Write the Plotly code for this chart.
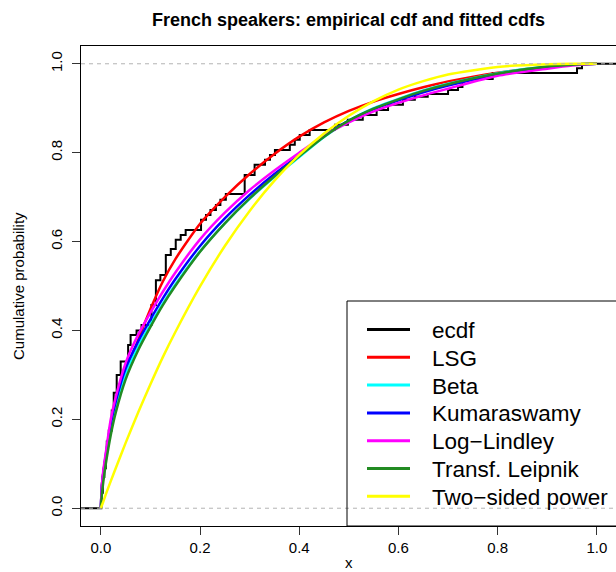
import plotly.graph_objects as go

# ---------------- data ----------------
ecdf_x = [0.001, 0.004, 0.007, 0.010, 0.012, 0.016, 0.022, 0.026, 0.032, 0.040,
          0.055, 0.060, 0.072, 0.082, 0.102, 0.111, 0.120, 0.131, 0.141, 0.151,
          0.161, 0.171, 0.202, 0.212, 0.221, 0.232, 0.241, 0.252, 0.290, 0.310,
          0.331, 0.341, 0.351, 0.381, 0.391, 0.401, 0.421, 0.472, 0.498, 0.528,
          0.556, 0.579, 0.609, 0.633, 0.659, 0.700, 0.720, 0.729, 0.790, 0.960,
          0.970]
ecdf_y = [0.035, 0.070, 0.090, 0.115, 0.150, 0.175, 0.220, 0.260, 0.300, 0.330,
          0.367, 0.390, 0.400, 0.412, 0.457, 0.513, 0.525, 0.570, 0.583, 0.604,
          0.615, 0.626, 0.649, 0.660, 0.671, 0.682, 0.694, 0.707, 0.750, 0.773,
          0.784, 0.795, 0.806, 0.818, 0.829, 0.840, 0.851, 0.863, 0.874, 0.885,
          0.896, 0.908, 0.919, 0.926, 0.932, 0.941, 0.948, 0.966, 0.979, 0.990,
          1.000]

grid_x = [0, 0.002, 0.005, 0.01, 0.02, 0.03, 0.05, 0.075, 0.1, 0.125, 0.15, 0.2,
          0.25, 0.3, 0.35, 0.4, 0.45, 0.5, 0.55, 0.6, 0.65, 0.7, 0.8, 0.9, 0.95, 1.0]

lsg_cdf = [0, 0.05, 0.08, 0.115, 0.18, 0.23, 0.30, 0.378, 0.448, 0.51, 0.56, 0.64,
           0.70, 0.752, 0.797, 0.836, 0.868, 0.894, 0.915, 0.932, 0.947, 0.96,
           0.98, 0.993, 0.998, 1.0]
beta_cdf = [0, 0.045, 0.075, 0.113, 0.18, 0.228, 0.302, 0.363, 0.413, 0.46, 0.503,
            0.578, 0.641, 0.696, 0.745, 0.79, 0.835, 0.872, 0.90, 0.921, 0.94,
            0.955, 0.979, 0.994, 0.998, 1.0]
kum_cdf = [0, 0.05, 0.08, 0.12, 0.19, 0.24, 0.315, 0.375, 0.425, 0.472, 0.515,
           0.59, 0.652, 0.705, 0.752, 0.795, 0.838, 0.872, 0.898, 0.918, 0.936,
           0.951, 0.976, 0.993, 0.998, 1.0]
loglindley_cdf = [0, 0.05, 0.085, 0.125, 0.20, 0.25, 0.327, 0.39, 0.44, 0.487,
                  0.53, 0.605, 0.665, 0.716, 0.76, 0.80, 0.838, 0.868, 0.893,
                  0.912, 0.929, 0.944, 0.973, 0.989, 0.996, 1.0]
leipnik_cdf = [0, 0.03, 0.06, 0.10, 0.165, 0.215, 0.29, 0.355, 0.408, 0.457, 0.50,
               0.577, 0.641, 0.697, 0.747, 0.792, 0.836, 0.872, 0.899, 0.92,
               0.939, 0.954, 0.978, 0.994, 0.998, 1.0]
tsp_cdf = [0, 0.006, 0.015, 0.031, 0.061, 0.09, 0.147, 0.215, 0.279, 0.34, 0.396,
           0.499, 0.59, 0.669, 0.737, 0.795, 0.843, 0.883, 0.916, 0.942, 0.961,
           0.976, 0.993, 0.999, 1.0, 1.0]

series_names = ["ecdf", "LSG", "Beta", "Kumaraswamy", "Log\u2212Lindley",
                "Transf. Leipnik", "Two\u2212sided power"]
series_colors = ["black", "red", "cyan", "blue", "magenta", "forestgreen", "yellow"]
x_ticks = [0.0, 0.2, 0.4, 0.6, 0.8, 1.0]
tick_text = ["0.0", "0.2", "0.4", "0.6", "0.8", "1.0"]

# ---------------- layout geometry ----------------
W, H = 616, 572
ML, MR, MT, MB = 81, 0, 46, 46
XR = [-0.04, 1.0386]
YR = [-0.04, 1.04]
FONT = "Liberation Sans, Arial, Helvetica, sans-serif"


def px_x(p):
    return (p - ML) / (W - ML - MR)


def px_y(p):
    return (H - MB - p) / (H - MT - MB)


fig = go.Figure()

# ECDF step function
sx = [XR[0]] + ecdf_x + [XR[1] + 0.01]
sy = [0.0] + ecdf_y + [ecdf_y[-1]]
fig.add_trace(go.Scatter(x=sx, y=sy, mode="lines", line=dict(color=series_colors[0], width=2, shape="hv"),
                         name=series_names[0], showlegend=False, hoverinfo="skip"))

fits = [lsg_cdf, beta_cdf, kum_cdf, loglindley_cdf, leipnik_cdf, tsp_cdf]
for i, ys in enumerate(fits):
    fig.add_trace(go.Scatter(x=grid_x, y=ys, mode="lines",
                             line=dict(color=series_colors[i + 1], width=2.5, shape="spline", smoothing=0.6),
                             name=series_names[i + 1], showlegend=False, hoverinfo="skip"))

shapes = []
# dashed reference lines at 0 and 1
for h in (0.0, 1.0):
    shapes.append(dict(type="line", xref="paper", yref="y", x0=0, x1=1, y0=h, y1=h,
                       line=dict(color="#b3b3b3", width=1, dash="4px,4px"), layer="above"))

# manual legend (R-style, bottom right, partly cut by the page edge)
shapes.append(dict(type="rect", xref="paper", yref="paper",
                   x0=px_x(347), x1=px_x(640), y0=px_y(526), y1=px_y(301),
                   line=dict(color="black", width=1), fillcolor="rgba(0,0,0,0)", layer="above"))
annotations = []
row_y = [329.5, 357.3, 385.1, 412.9, 440.7, 468.5, 496.3]
for i, name in enumerate(series_names):
    shapes.append(dict(type="line", xref="paper", yref="paper",
                       x0=px_x(367), x1=px_x(410), y0=px_y(row_y[i]), y1=px_y(row_y[i]),
                       line=dict(color=series_colors[i], width=3), layer="above"))
    annotations.append(dict(text=name, xref="paper", yref="paper", x=px_x(430), y=px_y(row_y[i] + 1),
                            xanchor="left", yanchor="middle", showarrow=False,
                            font=dict(family=FONT, size=22.5, color="black")))

# axis titles
annotations.append(dict(text="Cumulative probability", xref="paper", yref="paper",
                        x=px_x(18), y=0.5, textangle=-90, xanchor="center", yanchor="middle",
                        showarrow=False, font=dict(family=FONT, size=15, color="black")))
annotations.append(dict(text="x", xref="paper", yref="paper", x=0.5, y=px_y(562),
                        xanchor="center", yanchor="middle", showarrow=False,
                        font=dict(family=FONT, size=15, color="black")))

fig.update_layout(
    width=W, height=H,
    margin=dict(l=ML, r=MR, t=MT, b=MB, autoexpand=False),
    paper_bgcolor="white", plot_bgcolor="white",
    font=dict(family=FONT, color="black"),
    title=dict(text="<b>French speakers: empirical cdf and fitted cdfs</b>",
               x=0.5, xref="paper", xanchor="center",
               y=1 - 20 / H, yref="container", yanchor="middle",
               font=dict(family=FONT, size=18, color="black")),
    showlegend=False,
    shapes=shapes,
    annotations=annotations,
    xaxis=dict(range=XR, tickvals=x_ticks, ticktext=tick_text, ticks="outside", ticklen=8,
               tickcolor="#333", tickwidth=1, showline=True, linecolor="black", linewidth=1,
               mirror=True, showgrid=False, zeroline=False,
               tickfont=dict(family=FONT, size=15, color="black")),
    yaxis=dict(range=YR, tickvals=x_ticks, ticktext=tick_text, ticks="outside", ticklen=8,
               tickcolor="#333", tickwidth=1, showline=True, linecolor="black", linewidth=1,
               mirror=False, showgrid=False, zeroline=False, tickangle=-90,
               ticklabelstandoff=4,
               tickfont=dict(family=FONT, size=15, color="black")),
)

fig.write_html("out.html")
